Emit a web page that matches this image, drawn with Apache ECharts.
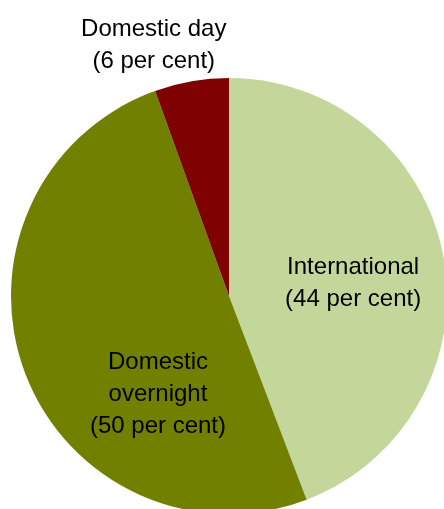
<!DOCTYPE html>
<html>
<head>
<meta charset="utf-8">
<script src="https://cdn.jsdelivr.net/npm/echarts@6/dist/echarts.min.js"></script>
<style>
  html, body { margin: 0; padding: 0; background: #fff; }
  #chart { width: 444px; height: 509px; }
</style>
</head>
<body>
<div id="chart"></div>
<script>
const categories = ["International", "Domestic overnight", "Domestic day"];
const shares = [44.2, 50.3, 5.5];
const labelTexts = ["International\n(44 per cent)", "Domestic\novernight\n(50 per cent)", "Domestic day\n(6 per cent)"];
const colors = ["#c4d79b", "#728000", "#7f0000"];
// label nudges from the default inside position
const labelOffsets = [[14, 8], [34, 59], [-56, -140]];

const chart = echarts.init(document.getElementById("chart"));
chart.setOption({
  animation: false,
  series: [{
    type: "pie",
    center: [229, 296],
    radius: [0, 218],
    startAngle: 90,
    clockwise: true,
    silent: true,
    label: {
      show: true,
      position: "inside",
      fontFamily: "Liberation Sans, Arial, sans-serif",
      fontSize: 24,
      lineHeight: 32,
      color: "#000",
    },
    labelLine: { show: false },
    itemStyle: { borderWidth: 0 },
    data: categories.map((name, i) => ({
      name,
      value: shares[i],
      itemStyle: { color: colors[i] },
      label: { formatter: labelTexts[i], offset: labelOffsets[i] },
    })),
  }],
});
</script>
</body>
</html>
